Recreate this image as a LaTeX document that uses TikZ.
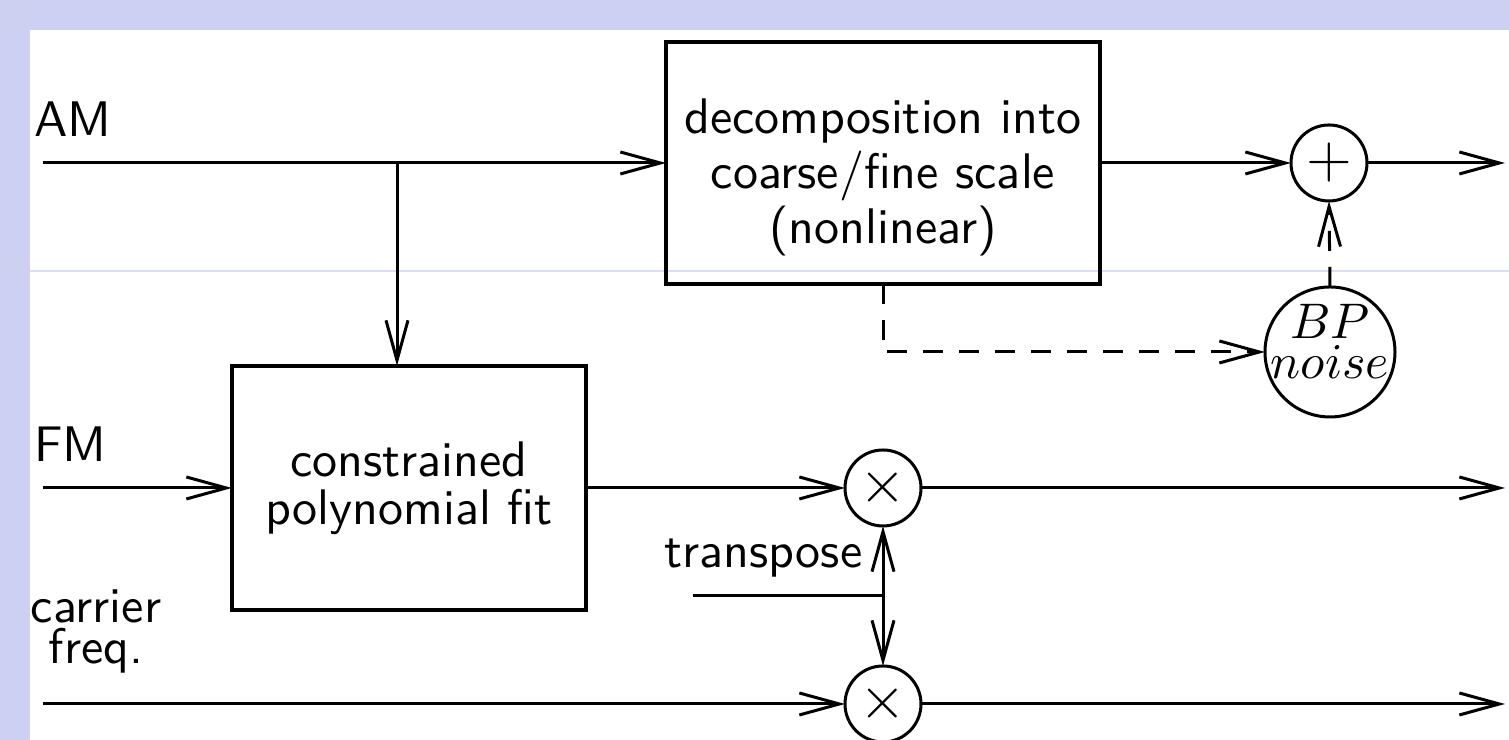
\documentclass[tikz,border=0pt]{standalone}
\usetikzlibrary{arrows.meta,calc}
\definecolor{frameblue}{RGB}{205,208,240}
\definecolor{ruleblue}{RGB}{218,221,246}
\begin{document}
\begin{tikzpicture}[x=0.2pt,y=-0.2pt,
  font=\sffamily\fontsize{10}{12}\selectfont,
  line width=0.6pt,
  flow/.style={-{Straight Barb[length=8pt,width=4.4pt]}},
  block/.style={draw,line width=0.7pt,inner sep=0pt,outer sep=0pt},
  junction/.style={draw,circle,inner sep=0pt,outer sep=0pt,minimum size=15.2pt,
                   font=\fontsize{13}{13}\selectfont},
  lbl/.style={inner sep=0pt,anchor=base west},
  dashline/.style={dash pattern=on 4pt off 3.2pt}
]
\useasboundingbox (0,0) rectangle (1509,740);
% frame and guide rule
\fill[frameblue] (0,0) rectangle (1509,740);
\fill[white] (30,30) rectangle (1509,740);
\draw[ruleblue,line width=0.4pt] (30,271) -- (1509,271);

% processing blocks
\node[block,minimum width=86.8pt,minimum height=48.4pt] (dec) at (883,163) {};
\node[inner sep=0pt,align=center,font=\sffamily\fontsize{10}{11}\selectfont] (dectxt) at (883,177)
  {decomposition into\\coarse/fine scale\\(nonlinear)};
\node[block,minimum width=70.8pt,minimum height=48.8pt,align=center,
      font=\sffamily\fontsize{10}{9.6}\selectfont] (fit) at (409,488)
  {constrained\\polynomial fit};

% summing / mixing junctions
\node[junction] (plus) at (1329,163) {$+$};
\node[junction] (mulfm) at (883,488) {$\times$};
\node[junction] (mulcf) at (883,704) {$\times$};
\node[draw,circle,inner sep=0pt,outer sep=0pt,minimum size=26pt] (bp) at (1330,352) {};
\node[inner sep=0pt,align=center,font=\fontsize{10}{8}\selectfont] (bptxt) at (1330,341) {$BP$\\$noise$};

% input labels
\node[lbl] (am) at (33,137) {AM};
\node[lbl] (fm) at (33,462) {FM};
\node[inner sep=0pt,align=center,font=\sffamily\fontsize{10}{7}\selectfont,anchor=north] (cf) at (96,588) {carrier\\freq.};
\node[lbl] (tp) at (663,568) {transpose};

% line ends
\coordinate (amin) at (43,163);
\coordinate (fmin) at (43,488);
\coordinate (cfin) at (43,704);
\coordinate (amout) at (1505,163);
\coordinate (fmout) at (1505,488);
\coordinate (cfout) at (1505,704);
\coordinate (br) at (397,163);
\coordinate (tpin) at (693,596);
\coordinate (tpj) at (883,596);

% AM path
\draw[flow] (amin) -- (dec.west);
\draw[flow] (br) -- (br |- fit.north);
\draw[flow] (dec.east) -- (plus.west);
\draw[flow] (plus.east) -- (amout);
\draw[flow,dashline] (dec.south) |- (bp.west);
\draw[flow,dashline] (bp.north) -- (plus.south);

% FM path
\draw[flow] (fmin) -- (fit.west);
\draw[flow] (fit.east) -- (mulfm.west);
\draw[flow] (mulfm.east) -- (fmout);

% carrier path
\draw[flow] (cfin) -- (mulcf.west);
\draw[flow] (mulcf.east) -- (cfout);

% transpose control
\draw (tpin) -- (tpj);
\draw[flow] (tpj) -- (mulfm.south);
\draw[flow] (tpj) -- (mulcf.north);
\end{tikzpicture}
\end{document}
